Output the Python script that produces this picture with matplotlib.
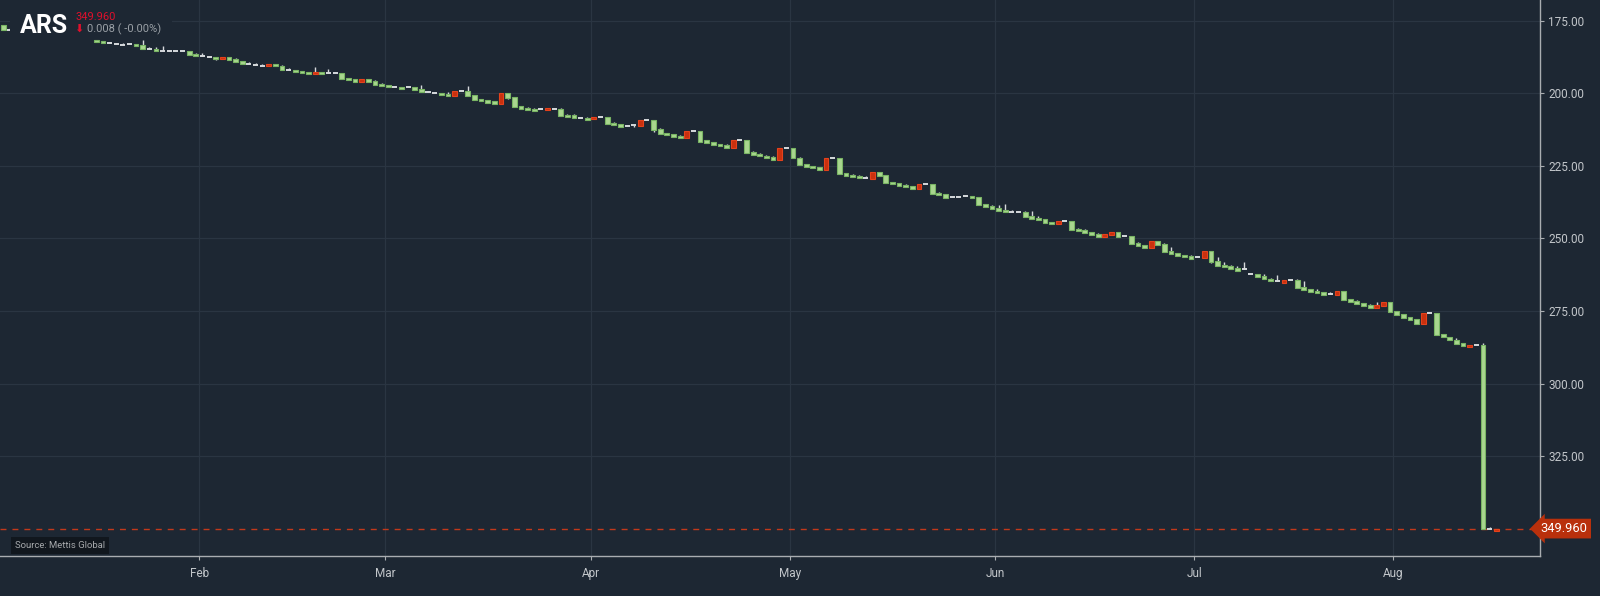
import numpy as np
import pandas as pd
import matplotlib
matplotlib.use("Agg")
import matplotlib.pyplot as plt
from matplotlib.patches import Rectangle
import matplotlib.transforms as mtransforms

plt.rcParams['font.family'] = ['Roboto', 'DejaVu Sans']

# ---- data (open, high, low, close) ----
jan_ohlc = [
    (176.5, 178.2, 176.5, 178.2), (178.1, 178.1, 177.6, 178.1),
    (181.64, 182.22, 181.64, 182.22), (181.99, 182.56, 181.99, 182.56),
    (182.79, 182.79, 182.33, 182.79), (183.14, 183.14, 182.68, 183.14),
    (183.48, 183.48, 182.68, 183.48), (183.14, 183.14, 183.14, 183.14),
    (183.02, 183.60, 183.02, 183.60), (183.37, 184.63, 181.64, 184.63),
    (184.86, 184.86, 184.06, 184.86), (184.75, 185.32, 184.06, 185.32),
    (185.32, 185.32, 183.71, 185.32), (185.55, 185.55, 184.97, 185.55),
    (185.55, 185.55, 185.55, 185.55), (185.55, 185.55, 185.55, 185.55),
    (185.55, 186.70, 185.55, 186.70), (186.35, 187.04, 186.01, 187.04),
]
feb_ohlc = [
    (187.27, 187.27, 186.12, 187.27), (187.62, 187.62, 187.04, 187.62),
    (187.62, 188.65, 187.62, 188.19), (188.07, 188.07, 187.50, 187.50),
    (187.62, 188.42, 187.62, 188.42), (188.19, 189.11, 187.85, 189.11),
    (189.00, 189.80, 189.00, 189.80), (190.03, 190.03, 189.22, 190.03),
    (190.37, 190.37, 189.57, 190.37), (190.72, 190.72, 189.91, 190.72),
    (190.72, 190.72, 189.91, 189.91), (189.91, 190.72, 189.91, 190.72),
    (190.60, 191.86, 190.14, 191.86), (192.09, 192.09, 191.29, 192.09),
    (191.98, 192.55, 191.98, 192.55), (192.32, 192.90, 192.32, 192.90),
    (192.67, 193.24, 192.67, 193.24), (193.24, 193.24, 190.95, 192.67),
    (192.67, 193.24, 192.67, 193.24), (193.13, 193.13, 191.63, 193.13),
    (193.13, 193.13, 193.13, 193.13), (193.02, 194.97, 193.02, 194.97),
    (194.74, 195.31, 194.74, 195.31), (195.08, 196.00, 195.08, 196.00),
    (196.00, 196.00, 195.08, 195.08), (195.08, 196.00, 195.08, 196.00),
    (195.77, 197.03, 195.43, 197.03), (196.69, 197.38, 196.35, 197.38),
]
mar_ohlc = [
    (197.15, 197.84, 197.15, 197.84), (197.95, 197.95, 197.49, 197.95),
    (197.84, 198.53, 197.84, 198.53), (197.95, 197.95, 197.95, 197.95),
    (197.84, 198.87, 197.84, 198.87), (198.53, 199.45, 197.15, 199.45),
    (199.68, 199.68, 199.22, 199.68), (200.02, 200.02, 199.56, 200.02),
    (199.91, 200.59, 199.91, 200.59), (200.25, 200.94, 199.56, 200.94),
    (200.82, 200.82, 199.22, 199.22), (199.33, 199.33, 199.33, 199.33),
    (199.22, 200.94, 197.49, 200.94), (200.59, 202.32, 200.59, 202.32),
    (201.97, 202.66, 201.97, 202.66), (202.32, 203.35, 202.32, 203.35),
    (202.66, 203.69, 202.66, 203.69), (203.69, 203.69, 199.91, 199.91),
    (199.91, 201.97, 199.91, 201.63), (201.28, 204.73, 201.28, 204.73),
    (204.38, 205.42, 204.38, 205.42), (205.07, 205.76, 204.73, 205.76),
    (205.30, 206.11, 204.96, 206.11), (205.53, 205.53, 205.53, 205.53),
    (205.76, 205.76, 205.07, 205.07), (205.42, 205.42, 204.96, 205.42),
    (205.42, 207.83, 205.07, 207.83), (207.48, 208.06, 207.14, 208.06),
    (207.60, 208.41, 207.26, 208.41), (208.64, 208.64, 208.18, 208.64),
    (208.41, 209.09, 208.18, 209.09),
]
apr_ohlc = [
    (208.98, 208.98, 208.18, 208.18), (208.29, 208.29, 208.29, 208.29),
    (208.18, 210.47, 208.18, 210.47), (210.13, 210.82, 209.78, 210.82),
    (210.59, 211.51, 210.59, 211.51), (211.28, 211.28, 211.28, 211.28),
    (210.93, 211.51, 210.93, 210.93), (211.16, 211.16, 209.21, 209.21),
    (209.32, 209.32, 209.32, 209.32), (209.21, 213.34, 209.21, 212.65),
    (212.31, 213.92, 211.97, 213.92), (213.57, 214.26, 213.57, 214.26),
    (214.03, 214.95, 214.03, 214.95), (214.61, 215.30, 214.26, 215.30),
    (215.30, 215.30, 213.00, 213.00), (213.11, 213.11, 213.11, 213.11),
    (213.00, 216.67, 213.00, 216.67), (216.10, 217.02, 216.10, 217.02),
    (216.79, 217.71, 216.79, 217.71), (217.48, 218.17, 217.48, 218.17),
    (217.82, 218.74, 217.48, 218.74), (218.74, 218.74, 216.10, 216.10),
    (216.21, 216.21, 216.21, 216.21), (216.10, 220.46, 216.10, 220.46),
    (220.23, 221.15, 219.89, 221.15), (220.81, 221.50, 220.46, 221.50),
    (221.50, 222.30, 221.15, 222.30), (221.95, 222.87, 221.61, 222.87),
    (222.87, 222.87, 218.85, 218.85), (218.97, 218.97, 218.97, 218.97),
]
may_ohlc = [
    (218.85, 222.18, 218.85, 222.18), (222.30, 224.60, 221.95, 224.60),
    (224.37, 225.29, 224.37, 225.29), (225.05, 225.74, 225.05, 225.74),
    (225.40, 226.31, 225.40, 226.31), (226.31, 226.31, 222.30, 222.30),
    (222.41, 222.41, 222.41, 222.41), (222.30, 227.69, 222.30, 227.69),
    (227.46, 228.38, 227.46, 228.38), (228.15, 228.73, 227.81, 228.73),
    (228.50, 229.07, 228.15, 229.07), (229.19, 229.19, 228.50, 229.19),
    (229.41, 229.41, 227.12, 227.12), (227.12, 228.38, 227.12, 228.38),
    (228.15, 230.79, 228.15, 230.79), (230.56, 231.14, 230.56, 231.14),
    (230.91, 231.83, 230.91, 231.83), (231.48, 232.17, 231.14, 232.17),
    (231.94, 232.86, 231.94, 232.86), (232.86, 232.86, 231.25, 231.25),
    (231.37, 231.37, 231.37, 231.37), (231.25, 234.58, 231.25, 234.58),
    (234.24, 234.93, 233.89, 234.93), (234.70, 235.96, 234.70, 235.96),
    (235.85, 235.85, 235.85, 235.85), (235.85, 235.85, 235.85, 235.85),
    (235.50, 235.50, 235.50, 235.50), (235.39, 236.07, 235.39, 236.07),
    (235.73, 238.37, 235.73, 238.37), (238.14, 239.06, 238.14, 239.06),
    (238.72, 239.75, 238.37, 239.75),
]
jun_ohlc = [
    (239.52, 240.44, 238.37, 240.44), (240.21, 240.90, 238.14, 240.90),
    (241.01, 241.01, 240.21, 241.01), (241.01, 241.01, 241.01, 241.01),
    (240.90, 242.50, 240.55, 242.50), (242.27, 243.19, 240.55, 243.19),
    (242.96, 243.54, 242.27, 243.54), (243.31, 244.57, 243.31, 244.57),
    (244.34, 245.03, 244.34, 245.03), (244.91, 244.91, 244.11, 244.11),
    (244.11, 244.11, 244.11, 244.11), (244.00, 246.98, 244.00, 246.98),
    (246.75, 247.44, 246.41, 247.44), (247.09, 248.01, 246.75, 248.01),
    (247.78, 248.70, 247.78, 248.70), (248.47, 249.39, 248.13, 249.39),
    (249.39, 249.39, 248.47, 248.47), (248.70, 248.70, 247.78, 247.78),
    (247.78, 249.39, 247.78, 249.39), (249.16, 249.16, 249.16, 249.16),
    (249.16, 251.80, 249.16, 251.80), (251.57, 252.49, 251.23, 252.49),
    (252.26, 253.18, 252.26, 253.18), (253.18, 253.18, 250.88, 250.88),
    (250.88, 252.15, 250.88, 252.15), (251.92, 254.67, 251.57, 254.67),
    (254.33, 255.25, 252.95, 255.25), (255.02, 255.94, 255.02, 255.94),
    (255.71, 256.40, 255.71, 256.40), (256.05, 257.08, 255.71, 257.08),
]
jul_ohlc = [
    (256.51, 256.51, 256.51, 256.51), (256.62, 256.62, 254.33, 254.33),
    (254.33, 258.35, 254.33, 258.12), (257.77, 259.38, 256.40, 259.38),
    (259.15, 259.84, 258.12, 259.84), (259.50, 260.41, 259.15, 260.41),
    (260.18, 261.10, 259.50, 261.10), (260.64, 260.64, 258.12, 260.64),
    (262.37, 262.37, 262.37, 262.37), (262.25, 263.17, 262.25, 263.17),
    (262.94, 264.09, 262.25, 264.09), (263.86, 264.60, 263.63, 264.60),
    (264.70, 264.70, 262.60, 264.70), (265.24, 265.24, 264.44, 264.44),
    (264.44, 264.44, 264.44, 264.44), (264.32, 266.96, 263.98, 266.96),
    (266.73, 267.65, 264.67, 267.65), (267.42, 268.34, 267.42, 268.34),
    (267.99, 268.68, 267.31, 268.68), (268.46, 269.37, 268.46, 269.37),
    (269.26, 269.26, 268.46, 269.26), (269.37, 269.37, 268.11, 268.11),
    (268.11, 271.10, 268.11, 271.10), (270.87, 271.79, 270.87, 271.79),
    (271.56, 272.47, 271.21, 272.47), (272.24, 273.16, 272.24, 273.16),
    (272.93, 273.85, 272.59, 273.85), (273.85, 273.85, 271.90, 272.93),
    (273.16, 273.16, 271.90, 271.90), (271.90, 275.23, 271.90, 275.23),
]
aug_ohlc = [
    (275.00, 276.26, 275.00, 276.26), (276.03, 277.30, 276.03, 277.30),
    (277.07, 277.99, 277.07, 277.99), (277.76, 279.36, 277.76, 279.36),
    (279.36, 279.36, 275.69, 275.69), (275.80, 275.80, 275.80, 275.80),
    (275.69, 283.15, 275.69, 283.15), (282.92, 284.07, 282.92, 284.07),
    (283.96, 285.10, 283.96, 285.10), (284.93, 286.20, 284.25, 286.20),
    (286.02, 287.17, 286.02, 287.17), (287.28, 287.28, 286.71, 286.71),
    (286.83, 286.83, 286.83, 286.83), (286.71, 349.95, 285.91, 349.95),
    (349.97, 349.97, 349.50, 349.97), (350.85, 350.85, 349.96, 349.96),
]

# trading calendar of the chart (one day has no slot in July)
calendar = pd.date_range('2023-01-02', '2023-08-16').drop(pd.Timestamp('2023-07-09'))
hidden = pd.date_range('2023-01-04', '2023-01-15')   # behind the legend box
dates = calendar.drop(hidden)
month_starts = pd.date_range('2023-02-01', '2023-08-01', freq='MS')
month_labels = ['Feb', 'Mar', 'Apr', 'May', 'Jun', 'Jul', 'Aug']
y_ticks = [175, 200, 225, 250, 275, 300, 325]
last_price = 349.960
symbol = 'ARS'
change_text = '0.008 ( -0.00%)'
source_text = 'Source: Mettis Global'

ohlc = np.array(jan_ohlc + feb_ohlc + mar_ohlc + apr_ohlc + may_ohlc + jun_ohlc + jul_ohlc + aug_ohlc)
o, h, l, c = ohlc.T
x = calendar.get_indexer(dates)

# ---- style ----
BG = '#1d2733'
GRID = '#2a3542'
SPINE = '#a9adb1'
TXT = '#c2c6ca'
UP_FACE, UP_EDGE = '#a9d68f', '#79b564'
DN_FACE, DN_EDGE = '#c9310f', '#e5421c'
DOJI = '#d6d9dc'

fig = plt.figure(figsize=(16, 5.96), dpi=100, facecolor=BG)
ax = fig.add_axes([0, 40 / 596, 1540 / 1600, 556 / 596], facecolor=BG)

up = c > o
dn = c < o
flat = c == o

ax.vlines(x, l, h, color=DOJI, lw=1, zorder=2)
ax.bar(x[up], (c - o)[up], bottom=o[up], width=0.72,
       color=UP_FACE, edgecolor=UP_EDGE, lw=0.8, zorder=3)
ax.bar(x[dn], (o - c)[dn], bottom=c[dn], width=0.72,
       color=DN_FACE, edgecolor=DN_EDGE, lw=0.8, zorder=3)
ax.hlines(c[flat], x[flat] - 0.38, x[flat] + 0.38, color=DOJI, lw=1.4, zorder=3)

# last price line
ax.axhline(last_price, color='#c2391b', lw=1, ls=(0, (4.3, 4.3)), zorder=1)

ax.set_xlim(-0.51, 231.6)
ax.set_ylim(359.4, 167.87)

ax.yaxis.tick_right()
ax.set_yticks(y_ticks)
ax.set_yticklabels([f'{v:.2f}' for v in y_ticks])
ax.set_xticks(calendar.get_indexer(month_starts) - 0.5)
ax.set_xticklabels(month_labels)
ax.tick_params(axis='both', colors=SPINE, labelcolor=TXT, labelsize=8.5, length=3, width=0.8)
ax.tick_params(axis='x', pad=5)
ax.tick_params(axis='y', pad=3)
ax.grid(True, color=GRID, lw=0.9)
ax.set_axisbelow(True)
for side in ['top', 'left']:
    ax.spines[side].set_visible(False)
for side in ['right', 'bottom']:
    ax.spines[side].set_color(SPINE)
    ax.spines[side].set_linewidth(1)

# price label on the right axis
trans = mtransforms.blended_transform_factory(ax.transAxes, ax.transData)
ax.text(1.0005, last_price, f'{last_price:.3f}', transform=trans, ha='left', va='center',
        color='white', fontsize=9.3, zorder=10, clip_on=False,
        bbox=dict(boxstyle='larrow,pad=0.26', fc='#b9300c', ec='none'))

# legend box top-left
ax.add_patch(Rectangle((10 / 1540, 1 - 38 / 556), 162 / 1540, 38 / 556, transform=ax.transAxes,
                       facecolor=BG, edgecolor='none', zorder=6))
fig.text(20 / 1600, 1 - 33 / 596, symbol, color='white', fontsize=18, fontweight='bold',
         va='baseline', zorder=7)
fig.text(75 / 1600, 1 - 20 / 596, f'{last_price:.3f}', color='#e0102c', fontsize=8,
         va='baseline', zorder=7)
fig.text(74 / 1600, 1 - 32 / 596, '⬇', color='#e0102c', fontsize=8,
         family='DejaVu Sans', va='baseline', zorder=7)
fig.text(87 / 1600, 1 - 32 / 596, change_text, color='#9aa0a6', fontsize=8,
         va='baseline', zorder=7)

# source tag
fig.text(15 / 1600, 1 - 548 / 596, source_text, color='#a6a9ac', fontsize=6.8,
         va='baseline', zorder=7,
         bbox=dict(boxstyle='square,pad=0.4', fc='#11171e', ec='none'))

fig.savefig('out.png', dpi=100, facecolor=BG)
